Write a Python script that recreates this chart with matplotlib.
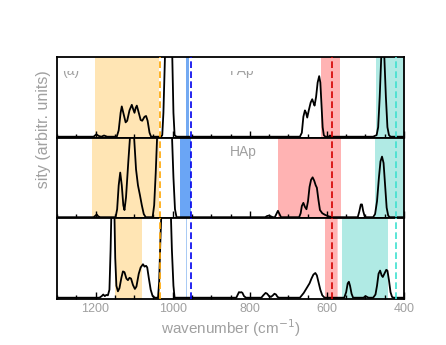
import matplotlib
matplotlib.use("Agg")
import matplotlib.pyplot as plt
from matplotlib.patches import Rectangle

plt.rcParams['font.family'] = ['Liberation Sans', 'DejaVu Sans']

# spectra (wavenumber in cm^-1, intensity normalised to panel height)
wn_fap = [1300, 1205, 1198, 1192, 1185, 1178, 1170, 1145, 1140, 1135, 1132, 1128, 1122, 1118, 1112, 1106,
          1102, 1099, 1096, 1093, 1089, 1083, 1079, 1073, 1069, 1065, 1060, 1056, 1030, 1027, 1024, 1020,
          1015, 1010, 1005, 1001, 998, 995, 990, 670, 665, 661, 657, 654, 651, 647, 642, 638, 635, 632,
          628, 624, 620, 617, 614, 611, 608, 604, 595, 592, 588, 480, 471, 467, 463, 459, 455, 451, 447,
          443, 439, 435, 400]
int_fap = [0, 0, 0.03, 0.01, 0.0, 0.015, 0.0, 0.0, 0.08, 0.3, 0.38, 0.3, 0.18, 0.2, 0.33, 0.40,
           0.34, 0.30, 0.36, 0.39, 0.32, 0.21, 0.2, 0.25, 0.26, 0.2, 0.05, 0.0, 0.0, 0.02, 0.3, 1.0,
           2.2, 2.8, 2.2, 1.0, 0.3, 0.02, 0.0, 0.0, 0.05, 0.25, 0.33, 0.30, 0.24, 0.33, 0.43, 0.47, 0.43, 0.39,
           0.5, 0.68, 0.76, 0.68, 0.4, 0.12, 0.02, 0.0, 0.0, 0.015, 0.0, 0.0, 0.02, 0.12, 0.5, 1.0, 1.25, 1.0, 0.5,
           0.12, 0.02, 0.0, 0.0]

wn_hap = [1300, 1205, 1200, 1197, 1193, 1188, 1148, 1144, 1140, 1136, 1132, 1128, 1125, 1121, 1115, 1110,
          1105, 1100, 1095, 1090, 1085, 1080, 1075, 1070, 1052, 1048, 1044, 1040, 1035, 1025, 1015, 1008,
          1002, 998, 994, 990, 760, 755, 750, 745, 740, 735, 730, 727, 723, 719, 672, 668, 665, 661, 657,
          653, 649, 645, 641, 637, 633, 629, 626, 622, 618, 612, 605, 595, 585, 520, 516, 512, 509, 506,
          502, 498, 480, 475, 470, 465, 461, 457, 453, 449, 445, 441, 437, 400]
int_hap = [0, 0, 0.02, 0.035, 0.01, 0, 0, 0.1, 0.4, 0.56, 0.4, 0.15, 0.09, 0.25, 0.7, 1.05,
           1.2, 1.0, 0.6, 0.4, 0.28, 0.15, 0.04, 0.0, 0.0, 0.15, 0.55, 1.05, 1.8, 2.6, 2.6, 1.8,
           1.05, 0.5, 0.1, 0.0, 0.0, 0.015, 0.02, 0.01, 0.0, 0.0, 0.05, 0.08, 0.04, 0.0, 0.0, 0.05, 0.14, 0.18, 0.13,
           0.10, 0.2, 0.38, 0.47, 0.50, 0.46, 0.40, 0.37, 0.22, 0.09, 0.05, 0.03, 0.01, 0.0, 0.0, 0.07, 0.16, 0.16, 0.08,
           0.01, 0.0, 0.0, 0.04, 0.2, 0.5, 0.7, 0.76, 0.68, 0.4, 0.12, 0.02, 0.0, 0.0]

wn_c = [1300, 1190, 1184, 1180, 1176, 1172, 1168, 1164, 1161, 1158, 1155, 1152, 1149, 1146, 1142, 1138,
        1133, 1129, 1125, 1120, 1116, 1112, 1108, 1103, 1098, 1094, 1088, 1083, 1077, 1073, 1069, 1066,
        1062, 1057, 1052, 1046, 1038, 1035, 1032, 1029, 1024, 1017, 1010, 1005, 1002, 998, 995, 850, 835,
        831, 828, 825, 822, 819, 815, 810, 770, 765, 759, 755, 750, 745, 740, 736, 732, 728, 724, 670,
        665, 660, 655, 650, 645, 640, 635, 630, 626, 622, 617, 612, 606, 555, 550, 546, 543, 540, 536,
        532, 505, 500, 496, 492, 480, 474, 470, 466, 462, 458, 455, 451, 446, 443, 439, 435, 431, 427, 400]
int_c = [0, 0, 0.02, 0.04, 0.02, 0.035, 0.03, 0.1, 0.6, 1.3, 1.6, 1.3, 0.5, 0.15, 0.08, 0.12,
         0.25, 0.33, 0.32, 0.24, 0.22, 0.25, 0.24, 0.16, 0.11, 0.14, 0.3, 0.38, 0.42, 0.39, 0.40, 0.38,
         0.25, 0.1, 0.02, 0.0, 0.0, 0.2, 0.7, 1.1, 1.8, 2.0, 1.8, 1.1, 0.6, 0.15, 0.0, 0.0, 0.0,
         0.04, 0.07, 0.065, 0.07, 0.06, 0.02, 0.0, 0.0, 0.03, 0.06, 0.05, 0.02, 0.01, 0.03, 0.05, 0.04, 0.01, 0.0, 0.0,
         0.03, 0.06, 0.1, 0.14, 0.18, 0.24, 0.29, 0.31, 0.28, 0.2, 0.1, 0.03, 0.0, 0.0, 0.07, 0.18, 0.2, 0.15, 0.05,
         0.0, 0.0, 0.02, 0.01, 0.0, 0.0, 0.04, 0.15, 0.3, 0.34, 0.28, 0.26, 0.3, 0.35, 0.34, 0.22, 0.07, 0.01, 0.0, 0.0]

# shaded regions (wavenumber ranges) per panel
bands_fap = [(1202, 1036, '#FFE5B4'), (966, 957, '#74AAF2'), (616, 566, '#FFB3B3'), (473, 400, '#B0EAE4')]
bands_hap = [(1208, 1035, '#FFE5B4'), (981, 952, '#6AA5F5'), (727, 563, '#FFB3B3'), (475, 400, '#B0EAE4')]
bands_c = [(1150, 1080, '#FFE5B4'), (966, 962, '#AACBF5'), (605, 575, '#FFB3B3'), (575, 571, '#FFD0D0'),
           (560, 441, '#B0EAE4')]
# dashed reference lines
ref_lines = [(1034, '#FFA500'), (952, '#0000EE'), (588, '#D40000'), (420, '#40E0D0')]

panels = [(wn_fap, int_fap, bands_fap), (wn_hap, int_hap, bands_hap), (wn_c, int_c, bands_c)]

fig = plt.figure(figsize=(4.46, 3.45), dpi=100)
gray = '#A0A0A0'
left, width = 57 / 446, 347 / 446
h = 80.5 / 345
bottoms = [1 - (57 + 80.5) / 345, 1 - (57 + 161) / 345, 1 - (57 + 241.5) / 345]

axes = []
for i, (wn, inten, bands) in enumerate(panels):
    ax = fig.add_axes([left, bottoms[i], width, h])
    for lo, hi, col in bands:
        ax.axvspan(lo, hi, color=col, lw=0, zorder=0)
    for pos, col in ref_lines:
        ax.axvline(pos, color=col, ls=(0, (4, 2)), lw=1.2, zorder=3)
    ax.plot(wn, inten, color='black', lw=1.3, zorder=2)
    ax.set_xlim(1300, 400)
    ax.set_ylim(-0.01, 1.0)
    ax.set_yticks([])
    ax.set_xticks([1200, 1000, 800, 600, 400])
    ax.set_xticks(range(400, 1301, 50), minor=True)
    ax.tick_params(axis='x', which='major', direction='in', length=5, width=1, colors=gray,
                   labelsize=9, pad=3)
    ax.tick_params(axis='x', which='minor', direction='in', length=3, width=1)
    ax.tick_params(axis='x', which='both', color='black')
    for sp in ax.spines.values():
        sp.set_linewidth(1.3)
    if i < 2:
        ax.tick_params(axis='x', labelbottom=False)
    axes.append(ax)

# panel labels, the top ones are partly cut off like in the original
clip = Rectangle((0, 0), 1, 0.82, transform=axes[0].transAxes, visible=False)
axes[0].add_patch(clip)
t1 = axes[0].text(0.014, 0.775, '(a)', transform=axes[0].transAxes, color=gray, fontsize=10,
                  va='baseline', clip_on=True)
t2 = axes[0].text(0.533, 0.775, 'FAp', transform=axes[0].transAxes, color=gray, fontsize=10,
                  ha='center', va='baseline', clip_on=True)
t1.set_clip_path(clip)
t2.set_clip_path(clip)
axes[1].text(0.536, 0.775, 'HAp', transform=axes[1].transAxes, color=gray, fontsize=10,
             ha='center', va='baseline')

axes[2].set_xlabel('wavenumber (cm$^{-1}$)', color=gray, fontsize=11, labelpad=2)

ylab = fig.text(44 / 446, 1 - 70 / 345, 'intensity (arbitr. units)', rotation=90, color=gray,
                fontsize=11.5, ha='center', va='top')
yclip = Rectangle((0, 1 - 190 / 345), 1, 190 / 345, transform=fig.transFigure, visible=False)
fig.add_artist(yclip)
ylab.set_clip_path(yclip)

fig.savefig('out.png', dpi=100)
